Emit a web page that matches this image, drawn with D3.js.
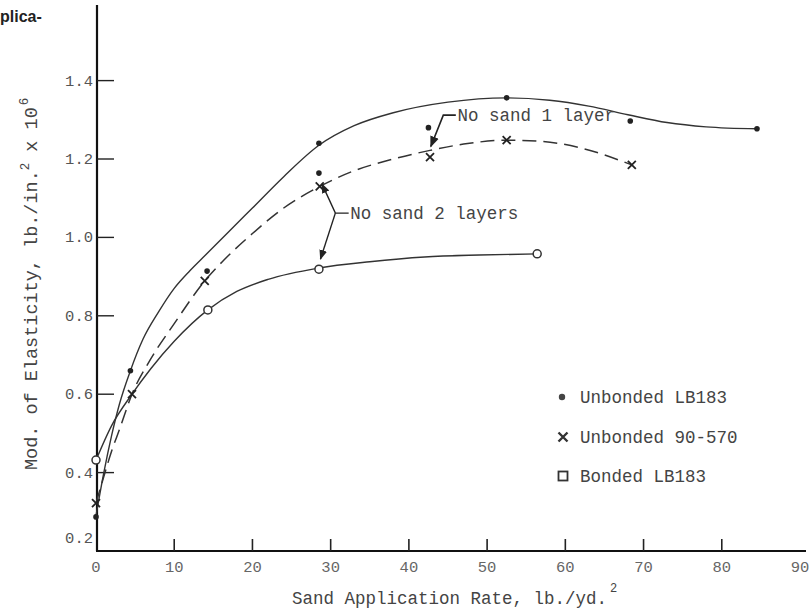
<!DOCTYPE html>
<html>
<head>
<meta charset="utf-8">
<style>
body { margin: 0; background: #fff; }
text { font-family: "Liberation Mono", "DejaVu Sans Mono", monospace; fill: #444; }
</style>
</head>
<body>
<div id="chart"></div>
<script src="https://cdn.jsdelivr.net/npm/d3@7/dist/d3.min.js"></script>
<script>
// measured points
const unbondedLB = [[0, 0.287], [4.4, 0.66], [14.2, 0.914], [28.5, 1.164], [28.5, 1.24], [42.5, 1.28], [52.5, 1.356], [68.3, 1.297], [84.5, 1.277]];
const unbonded90 = [[0, 0.322], [4.6, 0.60], [13.9, 0.889], [28.6, 1.13], [42.7, 1.205], [52.5, 1.248], [68.5, 1.185]];
const bondedLB = [[0, 0.432], [14.3, 0.815], [28.5, 0.919], [56.4, 0.958]];

// hand-drawn curves
const curveUnbondedLB = [[0, 0.29], [1, 0.40], [2, 0.495], [3, 0.575], [4.4, 0.66], [6, 0.74], [8, 0.81], [10, 0.87], [12, 0.915], [14, 0.955], [17, 1.015], [20, 1.075], [24, 1.155], [28.5, 1.235], [33, 1.285], [38, 1.318], [45, 1.345], [52.5, 1.356], [58, 1.35], [63, 1.335], [68, 1.313], [73, 1.293], [78, 1.282], [84.5, 1.277]];
const curveUnbonded90 = [[0, 0.322], [1, 0.39], [2, 0.455], [3, 0.51], [4.6, 0.60], [7, 0.69], [10, 0.78], [13.9, 0.889], [17, 0.955], [20, 1.01], [24, 1.075], [28.6, 1.13], [33, 1.17], [38, 1.20], [42.7, 1.222], [47, 1.238], [52.5, 1.248], [57, 1.245], [62, 1.228], [68.5, 1.185]];
const curveBonded = [[0, 0.432], [2, 0.52], [4.6, 0.60], [7, 0.665], [10, 0.735], [14.3, 0.815], [18, 0.862], [22, 0.893], [28.5, 0.922], [35, 0.938], [42, 0.95], [49, 0.955], [56.4, 0.958]];

const xTicks = [0, 10, 20, 30, 40, 50, 60, 70, 80, 90];
const xTickLabels = ["0", "10", "20", "30", "40", "50", "60", "70", "80", "90"];
const yTicks = [0.2, 0.4, 0.6, 0.8, 1.0, 1.2, 1.4];
const yTickLabels = ["0.2", "0.4", "0.6", "0.8", "1.0", "1.2", "1.4"];
const legendNames = ["Unbonded LB183", "Unbonded 90-570", "Bonded LB183"];

const width = 809, height = 610;
const svg = d3.select("#chart").append("svg")
    .attr("width", width)
    .attr("height", height);

const x = d3.scaleLinear().domain([0, 90]).range([96, 800]);
const y = d3.scaleLinear().domain([0.2, 1.6]).range([551, 2.2]);

const ink = "#333";

// page caption remnant
svg.append("text")
    .attr("x", 0).attr("y", 22)
    .style("font-family", "'Liberation Sans', Arial, sans-serif")
    .style("font-weight", "bold")
    .style("font-size", "16px")
    .style("fill", "#222")
    .text("plica-");

// axes
svg.append("line")
    .attr("x1", x(0) + 1).attr("x2", x(0) + 1)
    .attr("y1", y(0.2)).attr("y2", y(1.593))
    .attr("stroke", "#111").attr("stroke-width", 2.2);
svg.append("line")
    .attr("x1", x(0)).attr("x2", 806)
    .attr("y1", y(0.2)).attr("y2", y(0.2))
    .attr("stroke", "#111").attr("stroke-width", 2.2);

svg.append("g").selectAll("line")
    .data(xTicks.filter(d => d > 0 && d < 90))
    .join("line")
    .attr("x1", d => x(d)).attr("x2", d => x(d))
    .attr("y1", y(0.2)).attr("y2", y(0.2) - 12)
    .attr("stroke", "#222").attr("stroke-width", 1.6);

svg.append("g").selectAll("text")
    .data(xTicks)
    .join("text")
    .attr("x", d => x(d))
    .attr("y", 572)
    .attr("text-anchor", "middle")
    .style("font-size", "15.5px")
    .style("fill", "#666")
    .text((d, i) => xTickLabels[i]);

svg.append("g").selectAll("line")
    .data(yTicks.filter(d => d > 0.2))
    .join("line")
    .attr("x1", x(0) + 1).attr("x2", x(0) + 18)
    .attr("y1", d => y(d)).attr("y2", d => y(d))
    .attr("stroke", "#222").attr("stroke-width", 1.4);

svg.append("g").selectAll("text")
    .data(yTicks)
    .join("text")
    .attr("x", 93)
    .attr("y", d => y(d) + 5 - (d === 0.2 ? 13 : 0))
    .attr("text-anchor", "end")
    .style("font-size", "15.5px")
    .style("fill", "#555")
    .text((d, i) => yTickLabels[i]);

// axis titles
const xt = svg.append("text")
    .attr("x", 292).attr("y", 604)
    .style("font-size", "17.5px")
    .text("Sand Application Rate, lb./yd.");
xt.append("tspan").attr("dy", -12).attr("dx", 3).style("font-size", "12px").text("2");

const yt = svg.append("text")
    .attr("transform", "translate(37,470) rotate(-90)")
    .style("font-size", "18.5px")
    .text("Mod. of Elasticity, lb./in.");
yt.append("tspan").attr("dy", -8).style("font-size", "12.5px").text("2");
yt.append("tspan").attr("dy", 8).style("font-size", "18.5px").text(" x 10");
yt.append("tspan").attr("dy", -9).attr("dx", 2).style("font-size", "12.5px").text("6");

// curves
const line = d3.line()
    .x(d => x(d[0]))
    .y(d => y(d[1]))
    .curve(d3.curveMonotoneX);

svg.append("path").datum(curveUnbondedLB)
    .attr("d", line).attr("fill", "none")
    .attr("stroke", ink).attr("stroke-width", 1.4);
svg.append("path").datum(curveUnbonded90)
    .attr("d", line).attr("fill", "none")
    .attr("stroke", ink).attr("stroke-width", 1.5)
    .attr("stroke-dasharray", "14,7");
svg.append("path").datum(curveBonded)
    .attr("d", line).attr("fill", "none")
    .attr("stroke", ink).attr("stroke-width", 1.4);

// markers
const xMark = s => `M${-s},${-s}L${s},${s}M${s},${-s}L${-s},${s}`;

svg.append("g").selectAll("circle")
    .data(unbondedLB)
    .join("circle")
    .attr("cx", d => x(d[0])).attr("cy", d => y(d[1]))
    .attr("r", 2.8).attr("fill", "#222");

svg.append("g").selectAll("path")
    .data(unbonded90)
    .join("path")
    .attr("transform", d => `translate(${x(d[0])},${y(d[1])})`)
    .attr("d", xMark(4))
    .attr("stroke", "#222").attr("stroke-width", 1.8).attr("fill", "none");

svg.append("g").selectAll("circle")
    .data(bondedLB)
    .join("circle")
    .attr("cx", d => x(d[0])).attr("cy", d => y(d[1]))
    .attr("r", 4).attr("fill", "#fff")
    .attr("stroke", "#333").attr("stroke-width", 1.5);

// annotations
svg.append("defs").append("marker")
    .attr("id", "arrow")
    .attr("viewBox", "0 0 10 10")
    .attr("refX", 9).attr("refY", 5)
    .attr("markerWidth", 7).attr("markerHeight", 7)
    .attr("orient", "auto")
    .append("path").attr("d", "M0,1L10,5L0,9z").attr("fill", "#222");

const leader = d3.line().x(d => x(d[0])).y(d => y(d[1]));

svg.append("path")
    .datum([[46.0, 1.312], [44.4, 1.312], [42.8, 1.232]])
    .attr("d", leader).attr("fill", "none")
    .attr("stroke", "#222").attr("stroke-width", 1.6)
    .attr("marker-end", "url(#arrow)");
svg.append("text")
    .attr("x", x(46.2)).attr("y", y(1.312) + 6)
    .style("font-size", "17.5px")
    .text("No sand 1 layer");

svg.append("path")
    .datum([[32.3, 1.062], [30.6, 1.062], [28.9, 1.136]])
    .attr("d", leader).attr("fill", "none")
    .attr("stroke", "#222").attr("stroke-width", 1.4)
    .attr("marker-end", "url(#arrow)");
svg.append("path")
    .datum([[30.6, 1.062], [28.7, 0.945]])
    .attr("d", leader).attr("fill", "none")
    .attr("stroke", "#222").attr("stroke-width", 1.4)
    .attr("marker-end", "url(#arrow)");
svg.append("text")
    .attr("x", x(32.5)).attr("y", y(1.062) + 6)
    .style("font-size", "17.5px")
    .text("No sand 2 layers");

// legend
const legend = svg.append("g");
const ly = [397, 437, 476];
legend.append("circle").attr("cx", 562).attr("cy", ly[0]).attr("r", 3.2).attr("fill", "#444");
legend.append("path").attr("transform", `translate(563,${ly[1]})`)
    .attr("d", xMark(4.5)).attr("stroke", "#333").attr("stroke-width", 2.4).attr("fill", "none");
legend.append("rect").attr("x", 558.5).attr("y", ly[2] - 4.5).attr("width", 9).attr("height", 9)
    .attr("fill", "#fff").attr("stroke", "#333").attr("stroke-width", 1.8);
legend.selectAll("text")
    .data(legendNames)
    .join("text")
    .attr("x", 580)
    .attr("y", (d, i) => ly[i] + 6)
    .style("font-size", "17.5px")
    .text(d => d);
</script>
</body>
</html>
